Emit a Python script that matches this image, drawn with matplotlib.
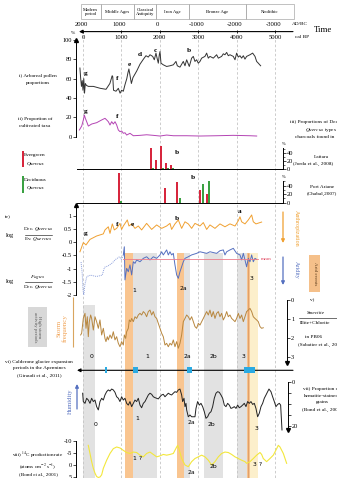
import matplotlib
matplotlib.use('Agg')
import matplotlib.pyplot as plt
from matplotlib.patches import Rectangle
from matplotlib.lines import Line2D

plt.rcParams['font.family'] = ['Liberation Serif', 'DejaVu Serif']
plt.rcParams['mathtext.fontset'] = 'stix'

# ---------------- DATA (x in cal BP) ----------------
period_edges = [-60, 461, 1328, 1909, 2753, 4245, 5495]
period_names = ["Modern\nperiod", "Middle Ages", "Classical\nAntiquity", "Iron Age", "Bronze Age", "Neolithic"]
bp_ticks = [0, 1000, 2000, 3000, 4000, 5000]
ad_labels = ["2000", "1000", "0", "-1000", "-2000", "-3000"]
ad_years = [2000, 1000, 0, -1000, -2000, -3000]

pollen_bp = [-80, -60, -40, -20, 0, 20, 40, 60, 90, 140, 270, 450, 600, 700, 760, 775, 795, 860, 920, 965,
             1005, 1050, 1095, 1140, 1170, 1195, 1230, 1260, 1300, 1400, 1485, 1571, 1640, 1700, 1745, 1815,
             1857, 1900, 1935, 1961, 1987, 2005, 2031, 2091, 2178, 2265, 2352, 2421, 2456, 2525, 2612, 2656,
             2699, 2768, 2829, 2872, 2916, 2959, 3003, 3046, 3090, 3176, 3220, 3263, 3307, 3393, 3480, 3524,
             3610, 3654, 3697, 3741, 3784, 3827, 3914, 3958, 4001, 4044, 4088, 4131, 4175, 4218, 4261, 4348,
             4418, 4479, 4522, 4565, 4626]
pollen_val = [71, 60, 52, 58, 48, 60, 45, 55, 53, 52, 52, 50, 49, 55, 63, 62, 48, 47, 50, 45,
              48, 47, 54, 60, 66, 70, 62, 55, 61, 68, 75, 80, 83.7, 82.3, 84.7, 83,
              79.5, 86.4, 80.2, 76, 84.7, 88, 76, 74.3, 72.6, 73.3, 74.3, 77.8, 73.3, 71.9, 77.8, 73.3,
              79.5, 72.6, 81.2, 83, 77.8, 79.5, 76, 77.8, 81.2, 83, 86.4, 81.2, 83, 81.2, 84.7, 81.2,
              83, 85.7, 84.7, 87.1, 83.7, 84.7, 83, 79.5, 86.4, 82.3, 83.7, 81.2, 83.7, 80.2, 83, 84.7,
              86.4, 83, 77.8, 76, 73.3]

cult_bp = [-95, -34, 9, 35, 61, 96, 139, 226, 356, 486, 573, 617, 660, 703, 747, 790, 834, 877, 920, 964,
           1007, 1051, 1094, 1137, 1224, 1311, 1485, 1658, 1832, 2005, 2179, 2353, 2700, 3047, 3481, 3915,
           4349, 4523]
cult_val = [6.9, 11, 17.3, 22.4, 19, 15.5, 11, 13.1, 14.5, 17.3, 19, 17.3, 15.5, 12.1, 15.5, 13.1, 15.5, 12.1,
            6.9, 5.2, 5.9, 3.5, 4.1, 1.7, 3.5, 1.0, 1.4, 2.0, 1.4, 0.7, 1.7, 1.0, 1.0, 0.7, 1.0, 1.4, 1.0, 0.7]

lat_red_bp = [1771, 1901, 2031, 2161, 2292]
lat_red_val = [52, 22, 57, 15, 10]
lat_green_bp = [1830, 1960, 2090, 2220, 2350]
lat_green_val = [3, 1, 4, 2, 2]

pa_red_bp = [937, 2135, 2448, 3039, 3229]
pa_red_val = [70, 34, 48, 29, 21]
pa_green_bp = [990, 2526, 3125, 3281]
pa_green_val = [5, 11, 44, 52]

decev_bp = [-79, 8, 78, 182, 355, 529, 572, 659, 703, 763, 815, 876, 963, 1006, 1050, 1154, 1197, 1267,
            1354, 1440, 1527, 1657, 1788, 1918, 2048, 2178, 2265, 2308, 2395, 2482, 2569, 2656, 2742, 2829,
            2916, 3046, 3133, 3220, 3307, 3437, 3567, 3697, 3827, 3958, 4044, 4088, 4131, 4218, 4305, 4392,
            4435, 4504, 4609, 4652]
decev_val = [-0.36, -0.01, -0.10, 0.11, 0.24, 0.32, 0.47, 0.59, 0.34, 0.70, 0.47, 0.53, 0.72, 0.49, 0.62,
             0.85, 0.62, 0.70, 0.53, 0.62, 0.47, 0.72, 0.49, 0.66, 0.53, 0.62, 0.72, 0.49, 0.70, 0.85, 0.53,
             0.78, 0.70, 0.53, 0.72, 0.62, 0.75, 0.49, 0.66, 0.53, 0.70, 0.59, 0.70, 0.62, 0.82, 0.97, 0.78,
             0.70, 0.85, 1.04, 0.78, 0.70, 0.75, 0.77]

fagus_dot_bp = [-50, -20, 0, 20, 50, 100, 200, 350, 500, 560, 650, 750, 850, 950, 1000, 1050, 1080]
fagus_dot_val = [-0.75, -1.2, -1.8, -2.0, -1.6, -1.3, -1.25, -1.3, -1.25, -0.95, -0.9, -0.8, -0.65, -0.55,
                 -0.65, -0.5, -0.45]
fagus_bp = [1050, 1076, 1093, 1137, 1180, 1223, 1267, 1310, 1354, 1397, 1484, 1571, 1657, 1744, 1831, 1918,
            2005, 2048, 2091, 2178, 2222, 2265, 2308, 2352, 2395, 2439, 2482, 2525, 2569, 2612, 2656, 2742,
            2829, 2959, 3046, 3133, 3220, 3307, 3480, 3567, 3654, 3697, 3741, 3827, 3914, 4001, 4088, 4131,
            4175, 4218, 4261, 4305, 4348, 4392, 4435, 4478, 4522]
fagus_val = [-0.48, -0.17, -1.43, -0.99, -1.12, -0.86, -1.24, -0.74, -0.80, -0.67, -0.74, -0.61, -0.55, -0.67,
             -0.55, -0.61, -0.48, -0.36, -0.48, -0.29, -0.48, -0.36, -0.48, -0.42, -0.86, -1.24, -1.37, -1.12,
             -0.93, -0.74, -0.61, -0.55, -0.48, -0.42, -0.36, -0.39, -0.42, -0.36, -0.42, -0.32, -0.29, -0.48,
             -0.36, -0.29, -0.23, -0.42, -0.48, -0.67, -0.42, -0.67, -0.93, -0.61, -0.74, -0.48, -0.74, -0.61,
             -0.65]
fagus_mean = -0.65
mean_span = [1050, 4560]

storm_bp = [-61, -35, 8, 52, 78, 112, 138, 164, 199, 225, 269, 286, 312, 355, 399, 442, 486, 529, 572, 598,
            633, 659, 703, 746, 789, 833, 876, 920, 963, 1006, 1050, 1076, 1111, 1137, 1180, 1206, 1241, 1267,
            1310, 1354, 1397, 1440, 1484, 1527, 1571, 1614, 1657, 1701, 1744, 1788, 1831, 1874, 1918, 1961,
            2005, 2048, 2091, 2135, 2178, 2222, 2265, 2308, 2352, 2395, 2439, 2482, 2525, 2569, 2612, 2656,
            2699, 2742, 2786, 2829, 2873, 2916, 2959, 3003, 3046, 3090, 3133, 3176, 3220, 3263, 3307, 3350,
            3393, 3437, 3480, 3524, 3567, 3610, 3654, 3697, 3741, 3784, 3827, 3871, 3914, 3958, 4001, 4044,
            4088, 4131, 4175, 4218, 4261, 4305, 4348, 4392, 4435, 4478, 4522, 4565, 4609, 4652, 4695]
storm_val = [1.84, 1.75, 0.97, 0.70, 1.49, 0.88, 1.93, 1.14, 0.79, 0.97, 1.58, 1.32, 0.88, 1.14, 1.49, 1.05,
             1.84, 1.49, 2.02, 2.19, 1.93, 2.10, 1.84, 2.02, 1.67, 2.10, 1.93, 2.28, 2.46, 2.19, 2.37, 1.84,
             2.02, 1.67, 1.49, 1.05, 1.14, 0.97, 1.14, 0.88, 0.97, 0.79, 0.70, 0.79, 0.61, 0.70, 0.88, 0.61,
             0.53, 0.79, 0.61, 0.88, 0.97, 1.23, 1.49, 1.75, 1.93, 2.37, 2.28, 2.46, 2.28, 2.37, 2.10, 2.46,
             2.19, 2.54, 2.28, 1.84, 1.14, 0.97, 0.79, 0.88, 1.05, 0.88, 1.14, 1.40, 1.49, 1.23, 1.32, 1.14,
             0.97, 0.79, 0.61, 0.79, 0.53, 0.88, 0.61, 0.97, 0.70, 0.61, 0.88, 0.70, 1.05, 0.88, 0.61, 0.88,
             0.79, 0.97, 1.05, 1.14, 0.97, 0.70, 0.97, 0.79, 1.14, 0.88, 0.61, 0.53, 0.44, 0.61, 0.88, 0.97,
             1.05, 1.14, 1.40, 1.49, 1.46]

glacier_start = [575, 1294, 2708, 4193]
glacier_end = [615, 1424, 2839, 4479]

hem_bp = [-9, 8, 52, 95, 138, 182, 225, 269, 312, 355, 399, 442, 486, 529, 572, 616, 659, 703, 746, 789,
          833, 876, 920, 963, 1006, 1050, 1093, 1137, 1180, 1223, 1267, 1310, 1354, 1397, 1440, 1484, 1527,
          1571, 1614, 1657, 1701, 1744, 1788, 1831, 1874, 1918, 1961, 2005, 2048, 2091, 2135, 2178, 2222,
          2265, 2308, 2352, 2395, 2439, 2482, 2525, 2569, 2595, 2630, 2656, 2682, 2699, 2742, 2786, 2829,
          2873, 2916, 2942, 2985, 3029, 3072, 3116, 3159, 3202, 3246, 3289, 3333, 3376, 3419, 3463, 3506,
          3550, 3593, 3637, 3680, 3723, 3767, 3810, 3853, 3897, 3940, 3984, 4027, 4070, 4114, 4157, 4201,
          4244, 4287, 4331, 4374, 4418, 4461, 4504, 4548, 4591, 4635, 4678, 4721, 4765, 4808, 4843, 4895,
          4938, 4982, 5025, 5069, 5112, 5147, 5182]
hem_val = [5.1, 8.9, 9.7, 7.4, 8.2, 9.7, 7.4, 8.9, 8.2, 11.2, 12.7, 8.9, 7.4, 8.2, 5.9, 4.4, 3.6, 4.1, 3.2,
           3.6, 4.7, 6.7, 7.4, 8.9, 6.7, 8.2, 7.4, 9.7, 10.5, 8.9, 11.2, 9.7, 8.2, 8.9, 7.4, 10.5, 11.7, 9.7,
           8.9, 7.4, 5.9, 5.1, 5.6, 6.7, 7.1, 7.4, 7.7, 6.7, 5.9, 5.6, 6.7, 5.9, 5.1, 5.6, 5.9, 5.1, 4.4, 4.7,
           3.6, 3.2, 5.9, 8.9, 7.4, 11.2, 9.7, 12.7, 15.8, 15.0, 15.8, 15.8, 15.8, 12.0, 8.9, 10.5, 9.7, 11.2,
           13.5, 16.5, 15.8, 14.2, 13.5, 11.2, 7.4, 5.1, 4.4, 4.7, 5.9, 7.4, 10.5, 11.2, 9.7, 10.5, 12.0, 11.7,
           11.2, 12.0, 10.5, 11.7, 11.2, 10.5, 9.7, 11.2, 8.9, 9.7, 8.9, 10.2, 9.7, 12.0, 15.8, 14.2, 11.2,
           9.7, 7.4, 5.9, 4.4, 3.2, 4.4, 6.7, 8.9, 11.2, 10.2, 9.7, 10.5, 21.8]

c14_bp = [138, 182, 225, 269, 312, 355, 399, 442, 486, 529, 616, 703, 789, 876, 963, 1050, 1137, 1223, 1310,
          1397, 1484, 1571, 1657, 1744, 1831, 1918, 2005, 2091, 2178, 2265, 2352, 2439, 2465, 2499, 2569,
          2656, 2742, 2829, 2916, 3003, 3090, 3176, 3263, 3350, 3437, 3524, 3610, 3697, 3784, 3871, 3958,
          4044, 4131, 4218, 4261, 4348, 4435, 4522, 4609, 4652, 4695, 4782, 4869, 4956, 5043, 5086, 5130,
          5217, 5303]
c14_val = [-8.2, -4.8, -1.4, 1.4, 3.4, 4.8, 5.2, 5.0, 4.1, 1.4, -2.0, -4.8, -6.8, -7.5, -7.1, -6.1, -5.2, -4.8,
           -5.4, -5.2, -4.1, -3.4, -4.8, -5.4, -4.4, -3.4, -3.8, -4.4, -4.1, -4.4, -4.8, -7.5, -8.2, -6.8, -2.7,
           0.0, 0.7, -1.4, -2.7, -3.4, -4.1, -3.4, -2.0, 0.0, -1.4, -3.4, -4.8, -5.4, -5.2, -4.4, -3.4, -2.7,
           -2.0, -1.4, -0.7, -1.4, -2.7, -4.1, -5.2, -4.4, -2.7, -1.4, -2.7, -4.1, -6.8, -8.2, -7.5, -4.8, -0.7]

gray_start = [-9, 1311, 2630, 3159, 4001]
gray_end = [312, 1935, 2786, 3637, 4261]
orange_start = [1093, 2439, 4261]
orange_end = [1311, 2630, 4348]
yellow_start = [4348]
yellow_end = [4565]

# ---------------- STYLE ----------------
RED = '#d7263d'; GREEN = '#3aa142'
C_ORANGE = '#f0a030'; C_BLUE = '#5570c0'; C_PURPLE = '#b444b4'
C_STORM = '#b8873f'; C_YELLOW = '#f3e73c'
GRAY_BAND = '#e2e2e2'; ORANGE_BAND = '#f9c590'; YELLOW_BAND = '#fcefcb'
GLACIER = '#2aaae2'

W, H = 337, 478
X0_PX, PX_PER_BP = 83.0, 0.0384
XLIM = (-X0_PX / PX_PER_BP, (W - X0_PX) / PX_PER_BP)


def bpx(px):
    return (px - X0_PX) / PX_PER_BP


fig = plt.figure(figsize=(W / 100, H / 100), dpi=100)
bg = fig.add_axes([0, 0, 1, 1])
bg.set_xlim(XLIM); bg.set_ylim(H, 0); bg.axis('off')


def T(x, y, s, size=4.0, ha='center', va='center', **kw):
    fig.text(x / W, 1 - y / H, s, fontsize=size, ha=ha, va=va, **kw)


def hline(x0, x1, y, color='k', lw=0.4):
    fig.add_artist(Line2D([x0 / W, x1 / W], [1 - y / H] * 2, lw=lw, color=color))


def panel(ytop, ybot, ref_px, ref_val, s):
    ax = fig.add_axes([0, 1 - ybot / H, 1, (ybot - ytop) / H])
    ax.set_xlim(XLIM)
    ax.set_ylim(ref_val + (ref_px - ybot) / s, ref_val + (ref_px - ytop) / s)
    ax.patch.set_visible(False)
    for sp in ax.spines.values():
        sp.set_visible(False)
    ax.set_xticks([]); ax.set_yticks([])
    return ax


def yaxis(ax, side, xbp, lo, hi, ticks, labels, arrow=None, marker='^', size=4.6, minor=None):
    sp = ax.spines[side]
    sp.set_visible(True); sp.set_position(('data', xbp)); sp.set_bounds(lo, hi); sp.set_linewidth(0.7)
    ax.yaxis.set_ticks_position(side)
    ax.set_yticks(ticks); ax.set_yticklabels(labels)
    if minor is not None:
        ax.set_yticks(minor, minor=True)
        ax.tick_params(axis='y', which='minor', length=1.2, width=0.4)
    ax.tick_params(axis='y', which='major', length=2, width=0.5, pad=1, labelsize=size)
    if arrow is not None:
        ax.plot([xbp], [arrow], marker=marker, ms=2.8, color='k', clip_on=False)


# ---------------- background: bands, dashed lines, time axis ----------------
bg.bar(gray_start, [H - 305] + [H - 253] * 4, width=[e - s for s, e in zip(gray_start, gray_end)],
       bottom=[305, 253, 253, 253, 253], align='edge', color=GRAY_BAND, lw=0, zorder=0)
bg.bar(orange_start, H - 253, width=[e - s for s, e in zip(orange_start, orange_end)], bottom=253,
       align='edge', color=ORANGE_BAND, lw=0, zorder=0)
bg.bar(yellow_start, H - 253, width=[e - s for s, e in zip(yellow_start, yellow_end)], bottom=253,
       align='edge', color=YELLOW_BAND, lw=0, zorder=0)
bg.vlines([(orange_start[2] + orange_end[2]) / 2], 253, H, color='#e0a06a', lw=0.8, zorder=0.5)
bg.vlines(bp_ticks, 35, H, colors='#c4c4c4', linestyles=(0, (3, 2.5)), lw=0.6, zorder=1)

# chronology boxes
bg.bar(period_edges[:-1], 14.7, width=[b - a for a, b in zip(period_edges[:-1], period_edges[1:])],
       bottom=4.3, align='edge', fill=False, edgecolor='#a8a8a8', lw=0.5)
for a, b, name in zip(period_edges[:-1], period_edges[1:], period_names):
    bg.text((a + b) / 2, 11.6, name, fontsize=3.4, ha='center', va='center', linespacing=1.0)

bg.annotate('', xy=(bpx(79), 31.6), xytext=(bpx(293), 31.6),
            arrowprops=dict(arrowstyle='-|>', lw=0.8, color='k', mutation_scale=5, shrinkA=0, shrinkB=0))
bg.vlines(bp_ticks, 30, 33.3, color='k', lw=0.6)
for yr, lab in zip(ad_years, ad_labels):
    bg.text(1950 - yr, 24.3, lab, fontsize=4.8, ha='center', va='center')
for t in bp_ticks:
    bg.text(t, 37.6, str(t), fontsize=4.8, ha='center', va='center')
T(300, 24.3, "AD/BC", 3.8)
T(302, 37.3, "cal BP", 3.8)
T(323, 30.5, "Time", 6.3)

# ---------------- panel i / ii ----------------
ax1 = panel(36, 140, 136.7, 0, 0.9675)
yaxis(ax1, 'left', bpx(76), 0, 100, [0, 20, 40, 60, 80, 100], ['0', '20', '40', '60', '80', '100'], arrow=100)
ax1.plot(pollen_bp, pollen_val, color='#333333', lw=0.7)
ax1.plot(cult_bp, cult_val, color=C_PURPLE, lw=0.7)
T(73, 33.5, "%", 3.8)
T(38, 75.5, "i) Arboreal pollen", 3.8)
T(38, 83, "proportions", 3.8)
T(35, 119, "ii) Proportion of", 3.8)
T(35, 126, "cultivated taxa", 3.8)
for s, x, y in [("g", 86, 73), ("f", 117, 79), ("e", 129, 65), ("d", 140, 54), ("c", 155, 50), ("b", 189, 51),
                ("g", 86, 111), ("f", 117, 117)]:
    T(x, y, s, 5.3, fontweight='bold')

# ---------------- panel iii ----------------
ax3a = panel(145, 171, 169.3, 0, 0.415)
yaxis(ax3a, 'right', bpx(282.5), 0, 52, [0, 20, 40], ['0', '20', '40'], minor=[10, 30, 50], size=4.6)
ax3a.spines['bottom'].set_visible(True); ax3a.spines['bottom'].set_position(('data', 0))
ax3a.spines['bottom'].set_bounds(bpx(76.5), bpx(282.5)); ax3a.spines['bottom'].set_linewidth(0.7)
ax3a.bar(lat_red_bp, lat_red_val, width=55, color=RED, zorder=3)
ax3a.bar(lat_green_bp, lat_green_val, width=55, color=GREEN, zorder=3)

ax3b = panel(172, 205, 202.7, 0, 0.425)
yaxis(ax3b, 'right', bpx(282.5), 0, 52, [0, 20, 40], ['0', '20', '40'], minor=[10, 30, 50], size=4.6)
ax3b.spines['bottom'].set_visible(True); ax3b.spines['bottom'].set_position(('data', 0))
ax3b.spines['bottom'].set_bounds(bpx(76.5), bpx(282.5)); ax3b.spines['bottom'].set_linewidth(0.7)
ax3b.bar(pa_red_bp, pa_red_val, width=60, color=RED, zorder=3)
ax3b.bar(pa_green_bp, pa_green_val, width=60, color=GREEN, zorder=3)

T(284, 144, "%", 3.2); T(284, 177, "%", 3.2)
T(176.7, 152.7, "b", 5.3, fontweight='bold'); T(193.3, 177.7, "b", 5.3, fontweight='bold')
T(290.5, 122.5, "iii) Proportions of Deciduous", 3.8, ha='left')
T(305, 130, r"$\mathit{Quercus}$ types in", 3.8, ha='left')
T(295, 137.3, "charcoals found in", 3.8, ha='left')
T(321.5, 157, "Lattara", 3.8); T(293, 164.3, "(Jorda et al., 2008)", 3.8, ha='left')
T(322, 186.5, "Port Ariane", 3.8); T(322, 194, "(Chabal,2007)", 3.8)
bg.add_patch(Rectangle((bpx(21.8), 150.5), 2.4 / PX_PER_BP, 16.8, color=RED, lw=0))
bg.add_patch(Rectangle((bpx(21.8), 175.5), 2.4 / PX_PER_BP, 17.2, color=GREEN, lw=0))
T(35, 155, "Evergreen", 3.8); T(35, 163.5, "Quercus", 3.8, style='italic')
T(35, 180, "Deciduous", 3.8); T(35, 187.5, "Quercus", 3.8, style='italic')

# ---------------- panel iv ----------------
ax4 = panel(203, 300, 242.3, 0, 26.3)
yaxis(ax4, 'left', bpx(76), -2, 1.4, [-2, -1.5, -1, -0.5, 0, 0.5, 1],
      ['-2', '-1.5', '-1', '-0.5', '0', '0.5', '1'], arrow=1.4)
ax4.plot(decev_bp, decev_val, color=C_ORANGE, lw=0.7)
ax4.plot(fagus_dot_bp, fagus_dot_val, color='#8da0dc', lw=0.7, ls=(0, (1, 1)))
ax4.plot(fagus_bp, fagus_val, color=C_BLUE, lw=0.7)
ax4.plot(mean_span, [fagus_mean, fagus_mean], color='#ec7b8a', lw=0.6)
T(260.5, 259.3, "mean", 3.6, ha='left', color='#e0405a')
for s, x, y in [("g", 86, 233), ("f", 117, 224), ("e", 132, 224), ("b", 177, 218), ("a", 240, 212)]:
    T(x, y, s, 5.3, fontweight='bold')
T(8, 216, "iv)", 3.8)
T(10, 235, "log", 4.6)
T(38, 229.5, r"Dec. $\mathit{Quercus}$", 3.8); hline(25, 52, 234.5); T(38, 239.5, r"Ev. $\mathit{Quercus}$", 3.8)
T(10, 282, "log", 4.6)
T(38, 277, r"$\mathit{Fagus}$", 3.8); hline(25, 52, 282); T(38, 287, r"Dec. $\mathit{Quercus}$", 3.8)
bg.annotate('', xy=(bpx(283), 243), xytext=(bpx(283), 212),
            arrowprops=dict(arrowstyle='-|>', color=C_ORANGE, lw=0.9, mutation_scale=5, shrinkA=0, shrinkB=0))
bg.annotate('', xy=(bpx(283), 285), xytext=(bpx(283), 257),
            arrowprops=dict(arrowstyle='-|>', color=C_BLUE, lw=0.9, mutation_scale=5, shrinkA=0, shrinkB=0))
T(296, 228, "Anthropization", 4.3, rotation=270, color=C_ORANGE)
T(296, 270, "Aridity", 4.3, rotation=270, color=C_BLUE)
bg.add_patch(Rectangle((bpx(309), 255), 11 / PX_PER_BP, 37, color='#f5c08a', lw=0))
T(314.5, 273.5, "Arid events", 3.6, rotation=270, color='#5a3a1a')
for s, x, y in [("1", 134, 290), ("2a", 183.5, 289), ("3", 252, 279)]:
    T(x, y, s, 4.4, family='DejaVu Sans')

# ---------------- panel v ----------------
ax5 = panel(292, 364, 300, 0, -19)
yaxis(ax5, 'right', bpx(287), 0, 3.25, [0, 1, 2, 3], ['0', '1', '2', '3'], arrow=3.3, marker='v')
ax5.plot(storm_bp, storm_val, color=C_STORM, lw=0.7)
T(312.5, 300.5, "v)", 3.8)
T(316, 313, "Smectite", 3.8, style='italic'); hline(299, 337, 318)
T(300, 323, "Illite+Chlorite", 3.8, ha='left')
T(314, 337.5, "in PB06", 3.8)
T(298.5, 344.5, "(Sabatier et al., 2012)", 3.8, ha='left')
bg.add_patch(Rectangle((bpx(28), 307), 18.5 / PX_PER_BP, 40, color='#d8d8d8', lw=0))
T(37, 327, "High storm\nactivity periods", 3.5, rotation=270, color='#555555', linespacing=1.1)
T(62, 328, "Storm\nfrequency", 5.0, rotation=90, color='#f0a050', linespacing=1.0)
bg.vlines([bpx(72.7)], 297, 347, color='#d9a55f', lw=0.8)
for s, x, y in [("0", 92, 356), ("1", 147, 356), ("2a", 187, 356), ("2b", 213, 356), ("3", 244, 357)]:
    T(x, y, s, 4.4, family='DejaVu Sans')

# ---------------- panel vi ----------------
bg.annotate('', xy=(bpx(77), 370.3), xytext=(bpx(293), 370.3),
            arrowprops=dict(arrowstyle='-|>', lw=0.8, color='k', mutation_scale=5, shrinkA=0, shrinkB=0))
bg.bar(glacier_start, 6, width=[e - s for s, e in zip(glacier_start, glacier_end)], bottom=367.3,
       align='edge', color=GLACIER, lw=0, zorder=3)
T(39, 362, "vi) Calderone glacier expansion", 3.8)
T(39, 368.5, "periods in the Apennines", 3.8)
T(39, 375.5, "(Giraudi et al., 2011)", 3.8)

# ---------------- panel vii ----------------
ax7 = panel(378, 434, 382, 0, -2.2)
yaxis(ax7, 'right', bpx(288), 0, 21.5, [0, 5, 10, 15, 20], ['0', '', '', '', '20'], arrow=22, marker='v')
ax7.plot(hem_bp, hem_val, color='#222222', lw=0.7)
bg.annotate('', xy=(bpx(77), 384), xytext=(bpx(77), 409),
            arrowprops=dict(arrowstyle='-|>', color=C_BLUE, lw=0.9, mutation_scale=5, shrinkA=0, shrinkB=0))
T(70.5, 401, "Humidity", 4.8, rotation=90, color=C_BLUE)
T(322, 389.3, "vii) Proportion of", 3.8)
T(322, 395.7, "hematite-stained", 3.8)
T(322, 402.3, "grains", 3.8)
T(322, 409.5, "(Bond et al., 2001)", 3.8)
for s, x, y in [("0", 96, 424), ("1", 137, 418), ("2a", 191, 422), ("2b", 211, 424), ("3", 257, 428)]:
    T(x, y, s, 4.4, family='DejaVu Sans')

# ---------------- panel viii ----------------
ax8 = panel(436, 478, 465, 0, -2.4)
yaxis(ax8, 'left', bpx(76), -10, 5.3, [-10, -5, 0, 5], ['-10', '-5', '0', '5'])
ax8.plot(c14_bp, c14_val, color=C_YELLOW, lw=0.8)
T(38, 464, "viii) $^{14}$C production rate\n(atoms cm$^{-2}$ s$^{-1}$)\n(Bond et al., 2001)", 3.7,
  linespacing=1.15, ma='center')
for s, x, y in [("1 ?", 138, 459), ("2a", 191, 473), ("2b", 213, 467), ("3 ?", 258, 465)]:
    T(x, y, s, 4.4, family='DejaVu Sans')

fig.savefig('out.png', dpi=100)
